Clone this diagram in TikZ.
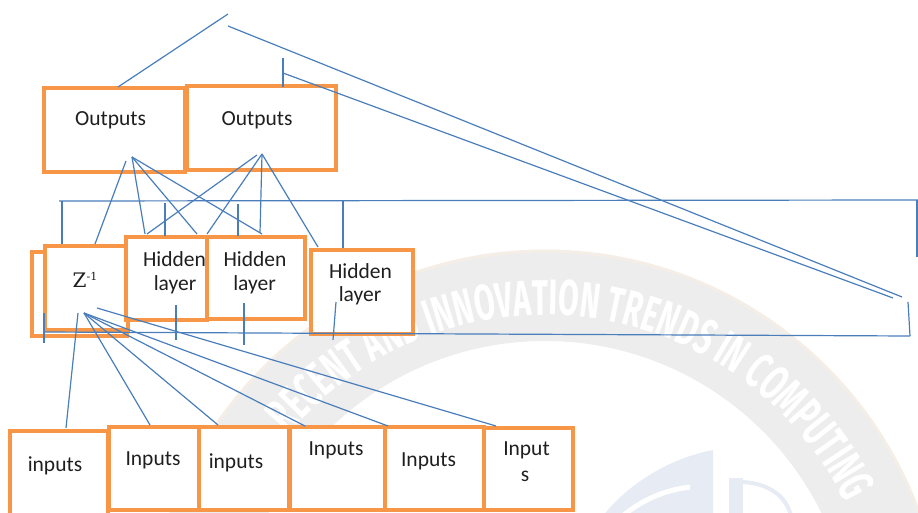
\documentclass[tikz,border=0pt]{standalone}
\usepackage{fontspec}
\setmainfont{Carlito}
\newfontfamily\zfont{DejaVu Serif}
\newfontfamily\wmfont[FakeStretch=0.6]{Fira Sans}
\usetikzlibrary{decorations.text}
\definecolor{boxorange}{HTML}{F79646}
\definecolor{linkblue}{HTML}{4A7EBB}
\definecolor{wmgrey}{HTML}{EDEDED}
\definecolor{wmrim}{HTML}{F5EEE7}
\definecolor{wmblue}{HTML}{E6EBF4}
\definecolor{inkgrey}{HTML}{1F1F1F}
\newcommand\wmstyle{\wmfont\bfseries\fontsize{50}{50}\selectfont\color{white}}
\newcommand\zlabel{{\zfont\fontsize{20}{24}\selectfont Z\raisebox{6.5pt}{\fontsize{11}{13}\selectfont -1}}}
\begin{document}
\begin{tikzpicture}[x=1pt, y=-1pt,
  box/.style={draw=boxorange, line width=3.8pt, fill=white, inner sep=0pt, outer sep=0pt},
  link/.style={draw=linkblue, line width=1.2pt},
  lbl/.style={text=inkgrey, font=\fontsize{21.5}{23}\selectfont, inner sep=0pt, outer sep=0pt}]
\useasboundingbox (0,0) rectangle (918,513);

% faint seal in the background
\begin{scope}
  \clip (0,0) rectangle (918,513);
  \begin{scope}[shift={(545,649)}, y=1pt]
    \fill[wmgrey, even odd rule] (0,0) circle[radius=397] (0,0) circle[radius=308];
    \draw[wmrim, line width=3pt] (0,0) circle[radius=398];
    \path[decorate, decoration={text along path, text align=center,
      text={|\wmstyle|RECENT AND INNOVATION TRENDS IN COMPUTING}}]
      (151:334) arc[start angle=151, end angle=15, radius=334];
  \end{scope}
  \fill[wmblue] (713,450) -- (713,520) -- (600,520) .. controls (625,485) and (670,458) .. (713,450);
  \draw[white, line width=5pt] (618,520) .. controls (640,500) and (665,490) .. (690,487);
  \fill[wmblue] (729,478) rectangle (743,520);
  \draw[wmblue, line width=4pt] (743,482) .. controls (772,484) and (788,498) .. (792,520);
\end{scope}

% boxes
\node[box, minimum width=141pt, minimum height=84pt] (out1) at (114.5,130) {};
\node[box, minimum width=149pt, minimum height=84pt] (out2) at (261.5,128) {};
\node[box, minimum width=95pt, minimum height=84pt] (zback) at (79.5,294) {};
\node[box, minimum width=83pt, minimum height=84pt] (zfront) at (86.5,288) {};
\node[box, minimum width=81pt, minimum height=83pt] (hid1) at (166.5,278.5) {};
\node[box, minimum width=98pt, minimum height=82pt] (hid2) at (256,278) {};
\node[box, minimum width=102pt, minimum height=84pt] (hid3) at (362,292) {};
\node[box, minimum width=98pt, minimum height=99pt] (in1) at (59,480.5) {};
\node[box, minimum width=90pt, minimum height=83pt] (in2) at (154,468.5) {};
\node[box, minimum width=90pt, minimum height=83pt] (in3) at (244,468.5) {};
\node[box, minimum width=95pt, minimum height=83pt] (in4) at (337.5,468.5) {};
\node[box, minimum width=99pt, minimum height=83pt] (in5) at (434.5,468.5) {};
\node[box, minimum width=89pt, minimum height=82pt] (in6) at (528.5,469) {};

% labels
\node[lbl] (tout1) at (110.5,120.5) {Outputs};
\node[lbl] (tout2) at (257,120.5) {Outputs};
\node[lbl] (tz) at (85,280) {\zlabel};
\node[lbl] (th1a) at (174.5,259.5) {Hidden};
\node[lbl] (th1b) at (175,284.5) {layer};
\node[lbl] (th2a) at (255,259.5) {Hidden};
\node[lbl] (th2b) at (254.5,284.5) {layer};
\node[lbl] (th3a) at (360.5,271) {Hidden};
\node[lbl] (th3b) at (360,296) {layer};
\node[lbl] (tin1) at (55,465.5) {inputs};
\node[lbl] (tin2) at (153,460) {Inputs};
\node[lbl] (tin3) at (236,462.5) {inputs};
\node[lbl] (tin4) at (336,450) {Inputs};
\node[lbl] (tin5) at (428.5,461.5) {Inputs};
\node[lbl] (tin6a) at (526.5,450) {Input};
\node[lbl] (tin6b) at (525,476) {s};

% connector end points
\coordinate (o1top) at (118,87);
\coordinate (apexA) at (228,14);
\coordinate (apexB) at (228,26);
\coordinate (farA) at (902,297);
\coordinate (stubTop) at (283,58);
\coordinate (stubBot) at (283,87);
\coordinate (stubMid) at (283,73);
\coordinate (farB) at (893,298);
\coordinate (rtTop) at (908,302);
\coordinate (rtBot) at (910,336);
\coordinate (lowL) at (44,332);
\coordinate (lowR) at (910,336);
\coordinate (upL) at (59,201);
\coordinate (upR) at (918,200);
\coordinate (edgeTop) at (917,200);
\coordinate (edgeBot) at (917,257);
\coordinate (d1a) at (62,201);   \coordinate (d1b) at (62,244);
\coordinate (d2a) at (165,203);  \coordinate (d2b) at (165,236);
\coordinate (d3a) at (238,204);  \coordinate (d3b) at (238,236);
\coordinate (d4a) at (343,201);  \coordinate (d4b) at (343,248);
\coordinate (o1p) at (126,161);
\coordinate (o1q) at (132,157);
\coordinate (o2p) at (257,155);
\coordinate (o2q) at (262,154);
\coordinate (zTop) at (95,244);
\coordinate (h1a) at (145,234);
\coordinate (h1b) at (147,234);
\coordinate (h1c) at (197,234);
\coordinate (h2a) at (207,234);
\coordinate (h2b) at (262,234);
\coordinate (h2c) at (260,233);
\coordinate (h3a) at (318,247);
\coordinate (t1a) at (44,313);   \coordinate (t1b) at (44,343);
\coordinate (t2a) at (176,305);  \coordinate (t2b) at (176,340);
\coordinate (t3a) at (244,303);  \coordinate (t3b) at (244,345);
\coordinate (t4a) at (336,302);  \coordinate (t4b) at (333,340);
\coordinate (zp) at (78,313);
\coordinate (zq) at (84,313);
\coordinate (zr) at (97,308);
\coordinate (i1) at (66,428);
\coordinate (i2) at (150,425);
\coordinate (i3) at (218,425);
\coordinate (i4) at (305,426);
\coordinate (i5) at (388,426);
\coordinate (i6) at (496,426);

% connectors
\draw[link] (o1top) -- (apexA);
\draw[link] (apexB) -- (farA);
\draw[link] (stubTop) -- (stubBot);
\draw[link] (stubMid) -- (farB);
\draw[link] (rtTop) -- (rtBot);
\draw[link] (lowL) -- (lowR);
\draw[link] (upL) -- (upR);
\draw[link] (edgeTop) -- (edgeBot);
\draw[link] (d1a) -- (d1b);
\draw[link] (d2a) -- (d2b);
\draw[link] (d3a) -- (d3b);
\draw[link] (d4a) -- (d4b);
\draw[link] (o1p) -- (zTop);
\draw[link] (o1q) -- (h1a);
\draw[link] (o1q) -- (h1c);
\draw[link] (o1q) -- (h2b);
\draw[link] (o2p) -- (h1b);
\draw[link] (o2q) -- (h2a);
\draw[link] (o2q) -- (h2c);
\draw[link] (o2q) -- (h3a);
\draw[link] (t1a) -- (t1b);
\draw[link] (t2a) -- (t2b);
\draw[link] (t3a) -- (t3b);
\draw[link] (t4a) -- (t4b);
\draw[link] (zp) -- (i1);
\draw[link] (zq) -- (i2);
\draw[link] (zq) -- (i3);
\draw[link] (zq) -- (i4);
\draw[link] (zq) -- (i5);
\draw[link] (zr) -- (i6);
\end{tikzpicture}
\end{document}
